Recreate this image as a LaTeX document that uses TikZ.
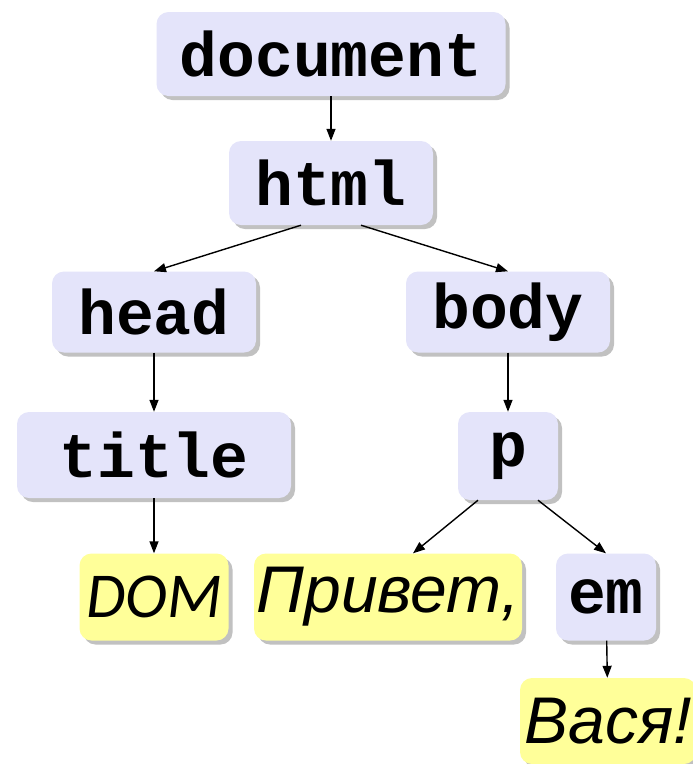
\documentclass[tikz,border=0pt]{standalone}
\usepackage{fontspec}
\setmainfont{Liberation Sans}
\setmonofont{Liberation Mono}
\newfontfamily\calfont{Carlito}
\usetikzlibrary{arrows.meta,shadows}
\definecolor{tagfill}{RGB}{228,228,250}
\definecolor{txtfill}{RGB}{255,255,153}

\begin{document}
\begin{tikzpicture}[x=1pt,y=-1pt,
tag/.style={rounded corners=12pt,fill=tagfill,minimum height=84pt,inner xsep=0pt,
font=\fontsize{63}{70}\selectfont\ttfamily\bfseries,
drop shadow={shadow xshift=4pt,shadow yshift=-4pt,opacity=.35,fill=black!70}},
txt/.style={rounded corners=12pt,fill=txtfill,minimum height=87pt,inner xsep=0pt,
font=\fontsize{66}{72}\selectfont\itshape,
drop shadow={shadow xshift=4pt,shadow yshift=-4pt,opacity=.35,fill=black!70}},
flow/.style={-{Triangle[length=12pt,width=9pt]},line width=1.4pt}]
\useasboundingbox (0,0) rectangle (693,764);
\node[tag,minimum width=349pt] (document) at (331,54) {document};
\node[tag,minimum width=204pt] (html) at (331,183) {html};
\node[tag,minimum width=204pt,minimum height=81pt] (head) at (154,312) {head};
\node[tag,minimum width=204pt,minimum height=81pt] (body) at (508,312) {body};
\node[tag,minimum width=274pt,minimum height=86pt] (title) at (154,455) {title};
\node[tag,minimum width=100pt,minimum height=88pt] (p) at (508,456) {p};
\node[txt,minimum width=149pt,font=\fontsize{64}{70}\selectfont\calfont\itshape] (dom) at (154,597) {DOM};
\node[txt,minimum width=268pt] (privet) at (388,597) {Привет,};
\node[tag,minimum width=100pt,minimum height=87pt] (em) at (606,597) {em};
\node[txt,minimum width=176pt,minimum height=86pt] (vasya) at (608,721) {Вася!};
\draw[flow] (document) -- (html);
\draw[flow] ([xshift=-30pt]html.south) -- (head.north);
\draw[flow] ([xshift=30pt]html.south) -- (body.north);
\draw[flow] (head) -- (title);
\draw[flow] (body) -- (p);
\draw[flow] (title) -- (dom);
\draw[flow] ([xshift=-30pt]p.south) -- ([xshift=25pt]privet.north);
\draw[flow] ([xshift=30pt]p.south) -- (em.north);
\draw[flow] (em) -- (vasya);
\end{tikzpicture}
\end{document}
